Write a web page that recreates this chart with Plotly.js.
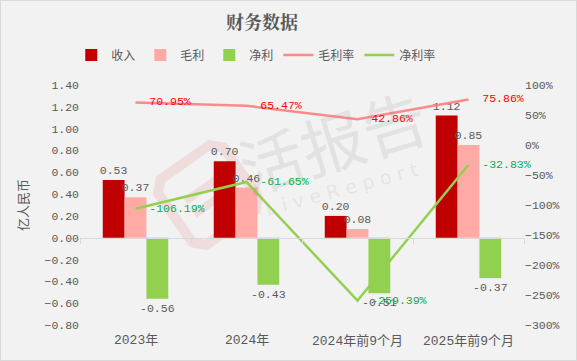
<!DOCTYPE html>
<html><head><meta charset="utf-8">
<script src="https://cdn.plot.ly/plotly-3.0.1.min.js"></script>
<style>
html,body{margin:0;padding:0;background:#f2f2f2;}
#c{width:577px;height:361px;box-sizing:border-box;border:1px solid #d9d9d9;}
</style></head>
<body><div id="c"></div>
<script>
const categories = ['2023年','2024年','2024年前9个月','2025年前9个月'];
const revenue = [0.53, 0.70, 0.20, 1.12];
const grossProfit = [0.37, 0.46, 0.08, 0.85];
const netProfit = [-0.56, -0.43, -0.51, -0.37];
const grossMargin = [70.95, 65.47, 42.86, 75.86];
const netMargin = [-106.19, -61.65, -259.39, -32.83];

const FONT = 'Liberation Mono, "Noto Sans CJK SC", monospace';
const GRAY = '#595959';

function barTrace(name, vals, color){
  return {type:'bar', name:name, x:categories, y:vals,
    marker:{color:color},
    text: vals.map(v=>v.toFixed(2)), textposition:'outside', cliponaxis:false, constraintext:'none',
    textfont:{family:FONT, size:11.5, color:GRAY}, hoverinfo:'none'};
}
function lineTrace(name, vals, color, tcolor){
  return {type:'scatter', mode:'lines+text', name:name, x:categories, y:vals, yaxis:'y2',
    line:{color:color, width:2.5},
    text: vals.map(v=>'\u00a0\u00a0'+v.toFixed(2)+'%'), textposition:'middle right', cliponaxis:false,
    textfont:{family:FONT, size:11.5, color:tcolor}, hoverinfo:'none'};
}

const data = [
  barTrace('收入', revenue, '#c00000'),
  barTrace('毛利', grossProfit, '#ffaaa5'),
  barTrace('净利', netProfit, '#92d050'),
  lineTrace('毛利率', grossMargin, 'rgba(255,120,120,0.85)', '#ff0000'),
  lineTrace('净利率', netMargin, '#92d050', '#00b050')
];

// watermark helpers (pixel -> paper)
const PX = p => (p-80)/444, PY = p => 1-(p-85)/240;
function rotPath(pts, cx, cy, deg, close){
  const a = deg*Math.PI/180;
  return pts.map((p,i)=>{
    const x = cx + p[0]*Math.cos(a) - p[1]*Math.sin(a);
    const y = cy + p[0]*Math.sin(a) + p[1]*Math.cos(a);
    return (i? 'L':'M') + PX(x).toFixed(4) + ',' + PY(y).toFixed(4);
  }).join(' ') + (close? ' Z':'');
}
const logoOuter = [[-30,-40],[30,-40],[40,-30],[40,30],[30,40],[-30,40],[-40,30],[-40,-30]];
const logoInner = [[-22,-8],[18,-8],[8,8],[-22,8]];
const shapes = [
  {type:'path', xref:'paper', yref:'paper', layer:'below', path: rotPath(logoOuter, 208, 195, -35, true),
   line:{color:'rgba(230,140,140,0.2)', width:10}},
  {type:'path', xref:'paper', yref:'paper', layer:'below', path: rotPath(logoInner, 208, 195, -35, false),
   line:{color:'rgba(230,140,140,0.2)', width:8}}
];

const annotations = categories.map(c=>({x:c, xref:'x', y:0, yref:'paper', yanchor:'top', yshift:-6,
  text:c, showarrow:false, font:{family:FONT, size:13, color:GRAY}}));
annotations.push({xref:'paper', yref:'paper', x:0.567, y:0.77, xanchor:'center', yanchor:'middle', text:'活报告', showarrow:false,
  textangle:-17, font:{family:'"Noto Sans CJK SC"', size:64, color:'rgba(140,140,140,0.16)'}});
annotations.push({xref:'paper', yref:'paper', x:0.588, y:0.567, xanchor:'center', yanchor:'middle', text:'L i v e R e p o r t', showarrow:false,
  textangle:-15, font:{family:'DejaVu Sans', size:19, color:'rgba(200,170,170,0.22)'}});

const layout = {
  width:575, height:359,
  paper_bgcolor:'#f2f2f2', plot_bgcolor:'#f2f2f2',
  margin:{l:79, r:52, t:84, b:35},
  title:{text:'<b>财务数据</b>', x:0.454, xref:'container', xanchor:'center', y:0.94, yref:'container', yanchor:'middle',
    font:{family:'"Noto Serif CJK SC", "Noto Sans CJK SC", serif', size:18, color:GRAY}},
  showlegend:true,
  legend:{orientation:'h', x:0.397, xanchor:'center', y:1.125, yanchor:'middle', traceorder:'normal',
    font:{family:'"Noto Sans CJK SC"', size:12, color:GRAY}, bgcolor:'rgba(0,0,0,0)', itemwidth:30},
  barmode:'group', bargap:0.41, bargroupgap:0,
  xaxis:{type:'category', showticklabels:false, showline:true, linecolor:'#d9d9d9', linewidth:1,
    anchor:'free', position:0.3636, ticks:'outside', tickson:'boundaries', ticklen:5, tickcolor:'#d9d9d9',
    showgrid:false, zeroline:false, fixedrange:true},
  yaxis:{range:[-0.8,1.4], dtick:0.2, tick0:0, tickformat:'.2f', showgrid:false, zeroline:false,
    tickfont:{family:FONT, size:11.5, color:GRAY},
    title:{text:'亿人民币', font:{family:'"Noto Sans CJK SC"', size:13, color:GRAY}, standoff:12}},
  yaxis2:{range:[-300,100], dtick:50, ticksuffix:'%', overlaying:'y', side:'right', showgrid:false, zeroline:false,
    tickfont:{family:FONT, size:11.5, color:GRAY}},
  annotations:annotations,
  shapes:shapes,
  font:{family:FONT}
};
Plotly.newPlot('c', data, layout, {displayModeBar:false, staticPlot:true});
</script></body></html>
